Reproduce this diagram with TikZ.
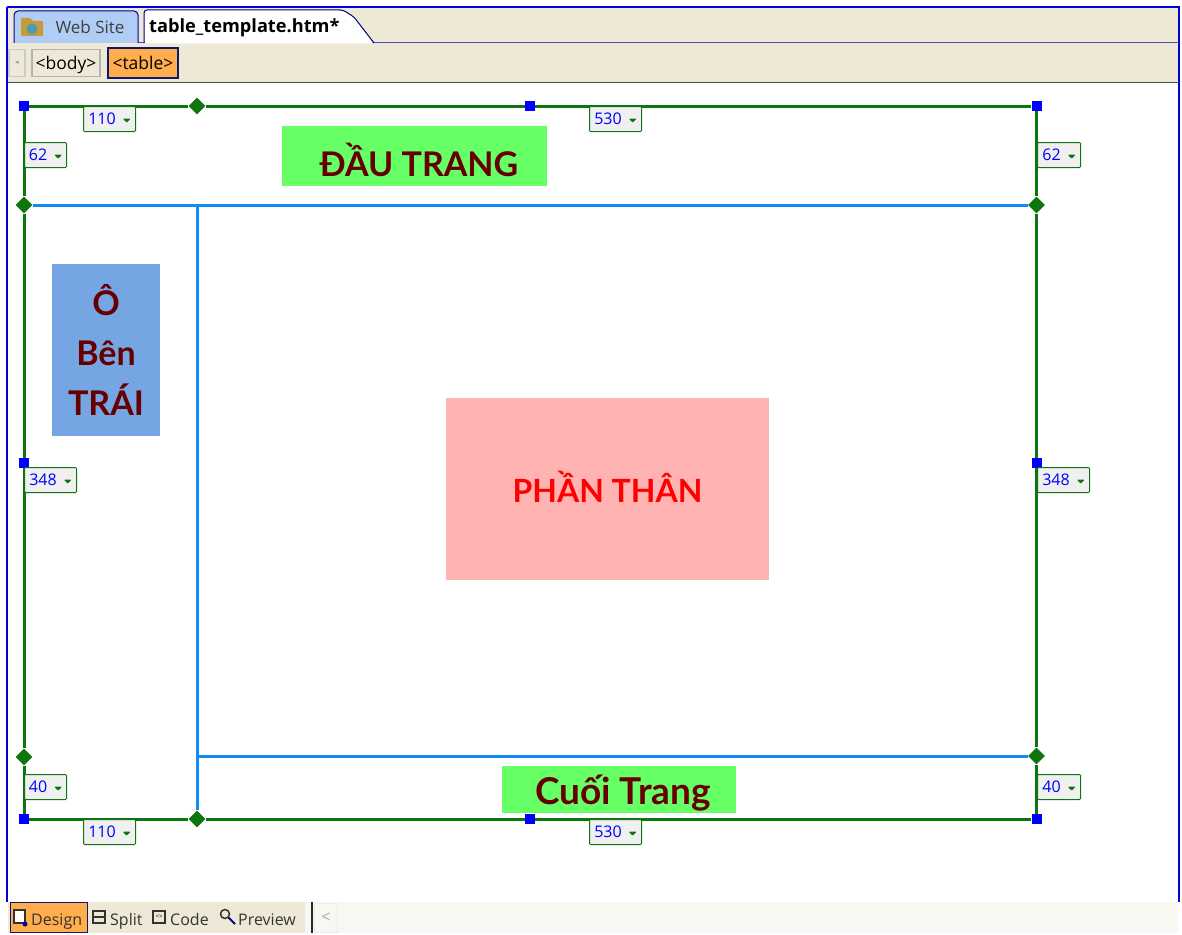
\documentclass[tikz,border=0pt]{standalone}
\usepackage{fontspec}
\setmainfont{Open Sans}
\newfontfamily\cellfont{Lato}
\newfontfamily\symfont{DejaVu Sans}
\usetikzlibrary{positioning, shapes.geometric}
\definecolor{cream}{HTML}{EEE9D6}
\definecolor{tblgreen}{HTML}{0F760F}
\definecolor{tblblue}{HTML}{0F8CF5}
\definecolor{navy}{HTML}{0A1A70}
\definecolor{tagorange}{HTML}{FFAD4D}
\definecolor{darkred}{HTML}{660000}
\definecolor{sitetabblue}{HTML}{B0CDF5}
\definecolor{cellgreen}{HTML}{66FF66}
\definecolor{cellblue}{HTML}{75A5E3}
\definecolor{cellpink}{HTML}{FFB3B3}
\definecolor{foldertan}{HTML}{C79A3A}
\newcommand{\dropmark}{\hspace{7pt}\tikz[baseline=-6pt]\fill[tblgreen] (0pt,0pt) -- (8pt,0pt) -- (4pt,-4pt) -- cycle;}
\newcommand{\shifttext}[2]{\raisebox{#1}[\height][\depth]{#2}}

\begin{document}
\begin{tikzpicture}[x=1pt, y=-1pt,
    font=\fontsize{16}{18}\selectfont,
band/.style = {fill=cream, draw=none, minimum width=#1, inner sep=0pt, anchor=north west},
crumb/.style = {draw=#1, line width=1.5pt, inner sep=0pt, minimum height=27pt, anchor=west, outer sep=0pt},
blueh/.style = {fill=blue, inner sep=0pt, minimum size=10pt},
greenh/.style = {diamond, fill=tblgreen, inner sep=0pt, minimum size=17pt},
outer/.style = {tblgreen, line width=3pt},
inner/.style = {tblblue, line width=3pt},
dim/.style = {draw=tblgreen, line width=1pt, rounded corners=1pt, fill=black!6, text=blue,
              font=\fontsize{16}{18}\selectfont, inner sep=0pt, minimum height=25pt,
              minimum width=#1, anchor=north west},
cell/.style = {inner sep=0pt, align=center, font=\cellfont\bfseries\fontsize{34}{50}\selectfont,
               text=darkred},
modetab/.style = {inner sep=0pt, anchor=base west, text=black!80}
                        ]
\useasboundingbox (0,0) rectangle (1182,934);
% window
\node (tabbar) [band=1171pt, minimum height=74pt] at (8,8) {};
\node (statusbar) [band=297pt, minimum height=31pt] at (8,902) {};
\node (statusrest) [band=873pt, minimum height=31pt, fill=cream!35] at (305,902) {};
\draw[blue!85!black, line width=1.2pt] (7,7) -- (1179,7) -- (1179,902);
\draw[blue!85!black, line width=1.2pt] (7,7) -- (7,902);
\draw[black!70, line width=1.2pt] (tabbar.south west) -- (tabbar.south east);
\draw[blue!55!black!70, line width=1pt] (14,43) -- (1179,43);
% tabs
\filldraw[draw=blue!60!black, fill=sitetabblue, line width=1pt, rounded corners=4pt]
    (14,43) -- (14,11) -- (138,11) -- (138,43);
\node (sitename) [anchor=center, text=black!75, font=\fontsize{17}{19}\selectfont] at (90,27) {Web Site};
\fill[foldertan, rounded corners=1pt] (21,36) -- (21,18) -- (30,18) -- (33,21) -- (43,21) -- (43,36) -- cycle;
\node (globe) [circle, fill=green!45!blue!70, inner sep=0pt, minimum size=11pt] at (32,29) {};
\fill[white, rounded corners=3pt] (144,43.5) -- (144,10) -- (343,10) -- (354,17) -- (374,43.5) -- cycle;
\draw[blue!50!black, line width=1pt, rounded corners=3pt]
    (144,43) -- (144,10) -- (343,10) -- (354,17) -- (374,43);
\node (pagename) [anchor=base west, inner sep=0pt, font=\bfseries\fontsize{18.2}{20}\selectfont] at (149,33) {table\_template.htm*};
% tag path
\node (backbtn) [crumb=black!20, minimum width=16pt] at (9,63) {\symfont\scriptsize\color{black!40}◂};
\node (bodytag) [crumb=black!30, minimum width=68pt, font=\fontsize{17.5}{19}\selectfont, right=7pt of backbtn] {\shifttext{-2pt}{<body>}};
\node (tabletag) [crumb=navy, line width=2.2pt, fill=tagorange, minimum width=70pt, minimum height=30pt, font=\fontsize{17.5}{19}\selectfont, right=8pt of bodytag] {<table>};
% content blocks
\node (header) [cell, fill=cellgreen, minimum width=265pt, minimum height=60pt] at (414.5,156) {\hspace{9pt}\shifttext{-4pt}{ĐẦU TRANG}};
\node (leftcell) [cell, fill=cellblue, minimum width=108pt, minimum height=172pt] at (106,350) {Ô\\Bên\\TRÁI};
\node (bodycell) [cell, text=red, fill=cellpink, minimum width=323pt, minimum height=182pt] at (607.5,489) {\fontsize{32}{36}\selectfont\shifttext{2pt}{PHẦN THÂN}};
\node (footer) [cell, fill=cellgreen, minimum width=234pt, minimum height=47pt] at (619,789.5) {\hspace{8pt}\fontsize{37}{40}\selectfont\shifttext{-4pt}{Cuối Trang}};
% handles
\node (tl) [blueh] at (24,106) {};
\node (tc) [greenh] at (197,106) {};
\node (tm) [blueh] at (530,106) {};
\node (tr) [blueh] at (1036.5,106) {};
\node (lu) [greenh] at (24,205) {};
\node (ru) [greenh] at (1036.5,205) {};
\node (lm) [blueh] at (24,463) {};
\node (rm) [blueh] at (1036.5,463) {};
\node (ld) [greenh] at (24,757) {};
\node (rd) [greenh] at (1036.5,756) {};
\node (bl) [blueh] at (24,819) {};
\node (bc) [greenh] at (197,819) {};
\node (bm) [blueh] at (530,819) {};
\node (br) [blueh] at (1036.5,819) {};
\coordinate (ju) at (197,205);
\coordinate (jd) at (197,756);
%
\draw[outer] (tl) -- (tc);
\draw[outer] (tc) -- (tm);
\draw[outer] (tm) -- (tr);
\draw[outer] (bl) -- (bc);
\draw[outer] (bc) -- (bm);
\draw[outer] (bm) -- (br);
\draw[outer] (tl) -- (lu);
\draw[outer] (lu) -- (lm);
\draw[outer] (lm) -- (ld);
\draw[outer] (ld) -- (bl);
\draw[outer] (tr) -- (ru);
\draw[outer] (ru) -- (rm);
\draw[outer] (rm) -- (rd);
\draw[outer] (rd) -- (br);
\draw[inner] (lu) -- (ru);
\draw[inner] (ju) -- (bc);
\draw[inner] (jd) -- (rd);
% sizes
\node (wa) [dim=52pt] at (83,106) {110\dropmark};
\node (wb) [dim=52pt] at (589,106) {530\dropmark};
\node (wc) [dim=52pt] at (83,819) {110\dropmark};
\node (wd) [dim=52pt] at (589,819) {530\dropmark};
\node (ha) [dim=42pt] at (24,142) {62\dropmark};
\node (hb) [dim=43pt] at (1037,142) {62\dropmark};
\node (hc) [dim=52pt] at (24,467) {348\dropmark};
\node (hd) [dim=52pt] at (1037,467) {348\dropmark};
\node (he) [dim=42pt] at (24,774) {40\dropmark};
\node (hf) [dim=43pt] at (1037,774) {40\dropmark};
% view switch
\node (designbtn) [draw=navy, line width=1.5pt, fill=tagorange, minimum width=77pt, minimum height=30pt, inner sep=0pt, anchor=west] at (9.5,917.5) {};
\draw[black!80, line width=1.2pt, fill=white] (14,910) rectangle (25,923);
\node (designdot) [circle, fill=blue!60!black, inner sep=0pt, minimum size=5pt] at (25,924) {};
\node (designname) [modetab] at (31,925) {Design};
\draw[black!80, line width=1.2pt] (93,911) rectangle (105,923);
\draw[black!80, line width=1.2pt] (93,917) -- (105,917);
\node (splitname) [modetab] at (110,925) {Split};
\draw[black!80, line width=1.2pt] (153,911) rectangle (165,923);
\node (codemark) [inner sep=0pt, font=\fontsize{6}{6}\selectfont] at (159,917) {<>};
\node (codename) [modetab] at (170,925) {Code};
\node (lens) [circle, draw=black!80, line width=1.5pt, inner sep=0pt, minimum size=9pt] at (225,914) {};
\coordinate (lensend) at (235,924);
\draw[blue!50!black, line width=2pt] (lens) -- (lensend);
\node (previewname) [modetab] at (238,925) {Preview};
\draw[black!85, line width=1.5pt] (312,902) -- (312,933);
\node (scrollbtn) [draw=black!15, rounded corners=1pt, minimum width=23pt, minimum height=29pt, inner sep=0pt, text=black!35] at (326,918) {<};
    \end{tikzpicture}
\end{document}
